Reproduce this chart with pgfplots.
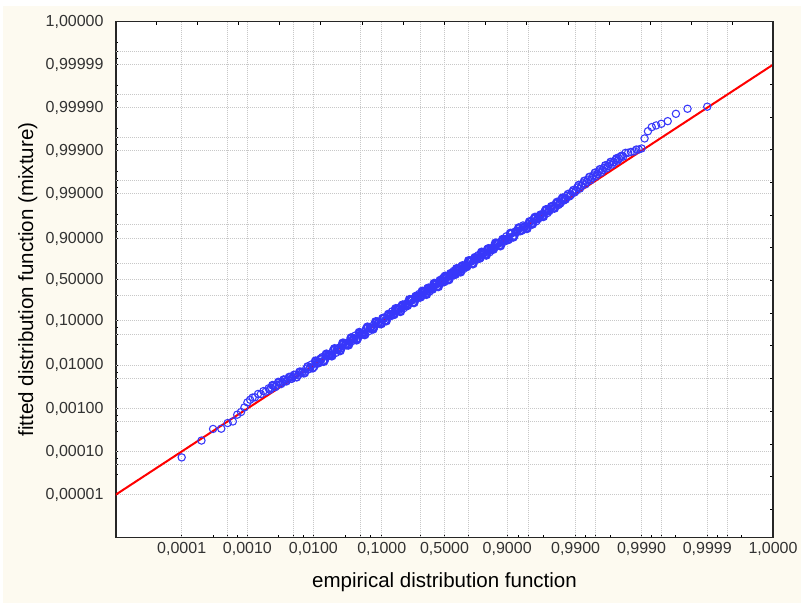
\documentclass[border=0pt]{standalone}
\usepackage{fontspec}
\setmainfont{Liberation Sans}
\usepackage{pgfplots}
\pgfplotsset{compat=1.18}
\definecolor{panel}{RGB}{253,250,240}
\definecolor{ptblue}{RGB}{55,55,250}
\definecolor{gridgray}{RGB}{200,200,200}

% probability axes are logit scaled: positions below are logit(p)
\pgfplotsset{logit/.style={x filter/.expression={ln(x/(1-x))}, y filter/.expression={ln(y/(1-y))}},
  pts/.style={logit, only marks, mark=o, mark size=2.75pt, ptblue, mark options={line width=0.8pt}}}

\begin{document}
\begin{tikzpicture}
\useasboundingbox (-87pt,-49.125pt) rectangle (513.75pt,403.125pt);
\fill[white] (-87pt,-49.125pt) rectangle (513.75pt,403.125pt);
\fill[panel] (-84.75pt,-49.125pt) rectangle (513.75pt,398.625pt);

\begin{axis}[
  at={(0pt,0pt)}, anchor=south west,
  scale only axis, width=492.75pt, height=386.85pt,
  xmin=-11.5129, xmax=11.5129, ymin=-13.8155, ymax=13.8155,
  axis background/.style={fill=white},
  axis line style={line width=1.2pt, black!85},
  tick align=inside, xtick pos=left, ytick pos=left,
  major tick length=2.6pt, minor tick length=1.6pt,
  tick style={black, line width=0.75pt},
  xtick={-9.2102,-6.9068,-4.5951,-2.1972,0,2.1972,4.5951,6.9068,9.2102,11.5129},
  xticklabels={{0,0001},{0,0010},{0,0100},{0,1000},{0,5000},{0,9000},{0,9900},{0,9990},{0,9999},{1,0000}},
  minor xtick={-8.1114,-7.6004,-7.2637,-5.8061,-5.2933,-4.9548,-3.4761,-2.9444,-2.5867,-0.8473,0.8473,2.5867,2.9444,3.4761,4.9548,5.2933,5.8061,7.2637,7.6004,8.1114,9.5670,9.9035,10.4143},
  ytick={-11.5129,-9.2102,-6.9068,-4.5951,-2.1972,0,2.1972,4.5951,6.9068,9.2102,11.5129,13.8155},
  yticklabels={{0,00001},{0,00010},{0,00100},{0,01000},{0,10000},{0,50000},{0,90000},{0,99000},{0,99900},{0,99990},{0,99999},{1,00000}},
  minor ytick={-10.4143,-9.9035,-9.5670,-8.1114,-7.6004,-7.2637,-5.8061,-5.2933,-4.9548,-3.4761,-2.9444,-2.5867,-0.8473,0.8473,2.5867,2.9444,3.4761,4.9548,5.2933,5.8061,7.2637,7.6004,8.1114,9.5670,9.9035,10.4143,11.8696,12.2061,12.7169},
  extra x ticks={-9.2102,-7.6004,-6.9068,-5.2933,-4.5951,-2.9444,-2.1972,-0.8473,0,0.8473,2.1972,2.9444,4.5951,5.2933,6.9068,7.6004,9.2102,9.9035},
  extra x tick labels={},
  extra x tick style={grid=major, major tick length=0pt},
  extra y ticks={-11.5129,-9.9035,-9.2102,-7.6004,-6.9068,-5.2933,-4.5951,-2.9444,-2.1972,-0.8473,0,0.8473,2.1972,2.9444,4.5951,5.2933,6.9068,7.6004,9.2102,9.9035,11.5129,12.2061},
  extra y tick labels={},
  extra y tick style={grid=major, major tick length=0pt},
  major grid style={gridgray, line width=0.75pt, dash pattern=on 0.75pt off 0.75pt},
  tick label style={font=\fontsize{12}{14}\selectfont, text=black!80},
  yticklabel style={xshift=-5.8pt},
  label style={font=\fontsize{15.4}{18}\selectfont},
  xlabel={empirical distribution function},
  ylabel={fitted distribution function (mixture)},
  xlabel style={at={(axis description cs:0.5,-0.0979)}, anchor=base},
  ylabel style={at={(axis description cs:-0.126,0.5)}, anchor=base},
]
\addplot[pts] table {
x y
0.0001 0.000073
0.0002 0.00018
0.0003 0.000335
0.0004 0.00034
0.0005 0.00046
0.0006 0.0005
0.0007 0.00072
0.0008 0.00083
0.0009 0.00106
0.0010 0.00139
0.0011 0.00160
0.0012 0.00180
0.0013 0.00182
0.00145 0.00218
0.0016 0.00216
0.00175 0.00254
0.0019 0.00247
0.0021 0.00294
0.0023 0.00299
0.0025 0.00338
0.0028 0.0035
0.0031 0.00403
0.0034 0.00408
0.0037 0.00463
0.0041 0.00472
0.0045 0.0054
0.0049 0.00539
0.0054 0.00605
0.0059 0.0059
0.0065 0.00715
0.0071 0.00653
0.0078 0.00842
0.0086 0.00817
0.0094 0.01053
0.0103 0.00927
0.0113 0.01187
0.0124 0.01153
0.0136 0.0155
0.015 0.0135
0.0165 0.0175
0.018 0.0169
0.0198 0.0224
0.0218 0.0194
0.024 0.0252
0.0263 0.025
0.029 0.0325
0.0318 0.0286
0.035 0.0364
0.0383 0.036
0.042 0.0475
0.046 0.0414
0.0505 0.0535
0.055 0.0512
0.06 0.0672
0.066 0.0594
0.072 0.0756
0.079 0.0743
0.086 0.0963
0.094 0.0846
0.102 0.113
0.11 0.1002
0.119 0.1242
0.128 0.1213
0.138 0.1547
0.148 0.1329
0.159 0.163
0.17 0.1644
0.182 0.1999
0.194 0.1784
0.207 0.2152
0.22 0.2097
0.234 0.2591
0.248 0.2256
0.262 0.2678
0.277 0.269
0.292 0.3168
0.307 0.2857
0.323 0.3339
0.339 0.3256
0.355 0.387
0.371 0.343
0.387 0.3941
0.403 0.3934
0.42 0.4492
0.437 0.4124
0.454 0.4664
0.471 0.456
0.488 0.523
0.5 0.47
0.512 0.542
0.529 0.5041
0.546 0.5584
0.563 0.5482
0.58 0.6141
0.597 0.5681
0.613 0.6201
0.629 0.6197
0.645 0.6725
0.661 0.6386
0.677 0.6879
0.693 0.6802
0.708 0.7369
0.723 0.699
0.738 0.7438
0.752 0.7445
0.766 0.7875
0.78 0.7628
0.793 0.8012
0.806 0.7966
0.818 0.8388
0.83 0.8131
0.841 0.845
0.852 0.847
0.862 0.8763
0.872 0.8608
0.881 0.8862
0.89 0.8841
0.898 0.9108
0.906 0.8958
0.914 0.9235
0.921 0.9131
0.928 0.9316
0.934 0.93
0.94 0.9478
0.945 0.9384
0.9495 0.951
0.954 0.9522
0.958 0.963
0.9617 0.9579
0.965 0.9667
0.9682 0.9666
0.971 0.9751
0.9737 0.9724
0.976 0.9779
0.9782 0.9786
0.9802 0.9834
0.982 0.982
0.9835 0.9858
0.985 0.98575
0.9864 0.98885
0.9876 0.98847
0.9887 0.99096
0.9897 0.99073
0.9906 0.99286
0.9914 0.99243
0.9922 0.99423
0.9929 0.99396
0.9935 0.99532
0.9941 0.99516
0.9946 0.99622
0.9951 0.99608
0.9955 0.99694
0.9959 0.9968
0.9963 0.99748
0.9966 0.99742
0.9969 0.99795
0.9972 0.9979
0.9975 0.99835
0.9977 0.9983
0.9979 0.99863
0.9981 0.99863
0.99825 0.99888
0.9984 0.99888
0.99855 0.99893
0.9987 0.99896
0.9988 0.99906
0.9989 0.99906
0.9990 0.99911
0.9991 0.99948
0.9992 0.999647
0.9993 0.999717
0.9994 0.999741
0.9995 0.999763
0.9996 0.999794
0.9997 0.999861
0.9998 0.999894
0.9999 0.999905
};
% further sample points, lower shoulder
\addplot[pts, mark options={line width=1.1pt}] table {
x y
0.0022 0.00275
0.0024 0.00348
0.00265 0.00318
0.00295 0.00413
0.00325 0.00374
0.00355 0.00469
0.0039 0.00429
0.0043 0.00538
0.0047 0.00494
0.0051 0.00602
0.0056 0.00532
0.0062 0.00713
0.0068 0.00694
0.0074 0.00666
0.0082 0.00943
0.009 0.009
0.0098 0.00862
};
% the dense middle of the sample, where thousands of circles overlap
\addplot[pts, mark options={line width=1.7pt}] table {
x y
0.0108 0.01253
0.0118 0.01145
0.013 0.01404
0.0143 0.01244
0.0157 0.01806
0.0172 0.0172
0.0189 0.01663
0.0208 0.02392
0.0229 0.02336
0.0251 0.02184
0.0276 0.03202
0.0304 0.02979
0.0334 0.02939
0.0366 0.04209
0.0401 0.0401
0.044 0.03828
0.0482 0.05543
0.0527 0.05165
0.0575 0.05003
0.063 0.07245
0.069 0.069
0.0755 0.06644
0.0825 0.09405
0.09 0.09
0.098 0.08624
0.106 0.1117
0.1145 0.0993
0.1235 0.1343
0.133 0.133
0.143 0.1332
0.1535 0.173
0.1645 0.1727
0.176 0.1542
0.188 0.2033
0.2005 0.2005
0.2135 0.2001
0.227 0.2533
0.241 0.252
0.255 0.2265
0.2695 0.2892
0.2845 0.2845
0.2995 0.2827
0.315 0.3474
0.331 0.3443
0.347 0.313
0.363 0.3861
0.379 0.379
0.395 0.3759
0.4115 0.4478
0.4285 0.4432
0.4455 0.4084
0.4625 0.4874
0.4795 0.4795
0.494 0.474
0.506 0.5435
0.5205 0.5355
0.5375 0.5002
0.5545 0.5792
0.5715 0.5715
0.5885 0.5691
0.605 0.6409
0.621 0.6351
0.637 0.6023
0.653 0.6757
0.669 0.669
0.685 0.6677
0.7005 0.732
0.7155 0.7277
0.7305 0.701
0.745 0.764
0.759 0.759
0.773 0.759
0.7865 0.8117
0.7995 0.8091
0.812 0.7891
0.824 0.8385
0.8355 0.8355
0.8465 0.8361
0.857 0.8754
0.867 0.8739
0.8765 0.8603
0.8855 0.8956
0.894 0.894
0.902 0.8949
0.91 0.9223
0.9175 0.9076
0.9245 0.9283
0.931 0.9407
0.937 0.9338
0.9425 0.9436
0.9473 0.9394
0.9518 0.9566
0.956 0.9516
0.9599 0.9655
0.9634 0.9634
0.9666 0.9693
0.9696 0.9672
0.9724 0.9768
0.9749 0.9757
0.9771 0.9803
0.9792 0.9788
0.9811 0.9843
0.9828 0.9837
0.9843 0.98744
0.9857 0.98684
};
% further sample points, upper shoulder
\addplot[pts, mark options={line width=1.1pt}] table {
x y
0.987 0.98986
0.9882 0.98938
0.9892 0.99179
0.9902 0.99157
0.991 0.9937
0.9918 0.99344
0.9926 0.99497
0.9932 0.9947
0.9938 0.99591
0.9944 0.99574
0.9949 0.99674
0.9953 0.99652
0.9957 0.99729
0.9961 0.99719
0.99645 0.9978
0.99675 0.99772
0.99705 0.99817
0.99735 0.99814
0.9976 0.99849
0.9978 0.99846
0.998 0.99868
};
% fitted = empirical reference line (axis units)
\addplot[red, line width=1.5pt] coordinates {(-13.8155,-13.8155) (13.8155,13.8155)};
\end{axis}

\begin{axis}[
  at={(0pt,0pt)}, anchor=south west,
  scale only axis, width=492.75pt, height=386.85pt,
  xmin=-11.5129, xmax=11.5129, ymin=-13.8155, ymax=13.8155,
  axis x line*=top, axis y line*=right,
  axis line style={line width=1.2pt, black!85, -},
  tick align=inside, major tick length=2.6pt,
  tick style={black, line width=0.75pt},
  xtick={-10.10,-8.66,-7.22,-5.77,-4.33,-2.89,-1.44,0,1.44,2.89,4.33,5.77,7.22,8.66,10.10},
  ytick={12.21,10.46,8.71,6.95,5.20,3.45,1.70,-0.05,-1.80,-3.55,-5.31,-7.06,-8.81,-10.56,-12.31},
  xticklabels={}, yticklabels={},
]
\end{axis}
\end{tikzpicture}
\end{document}
